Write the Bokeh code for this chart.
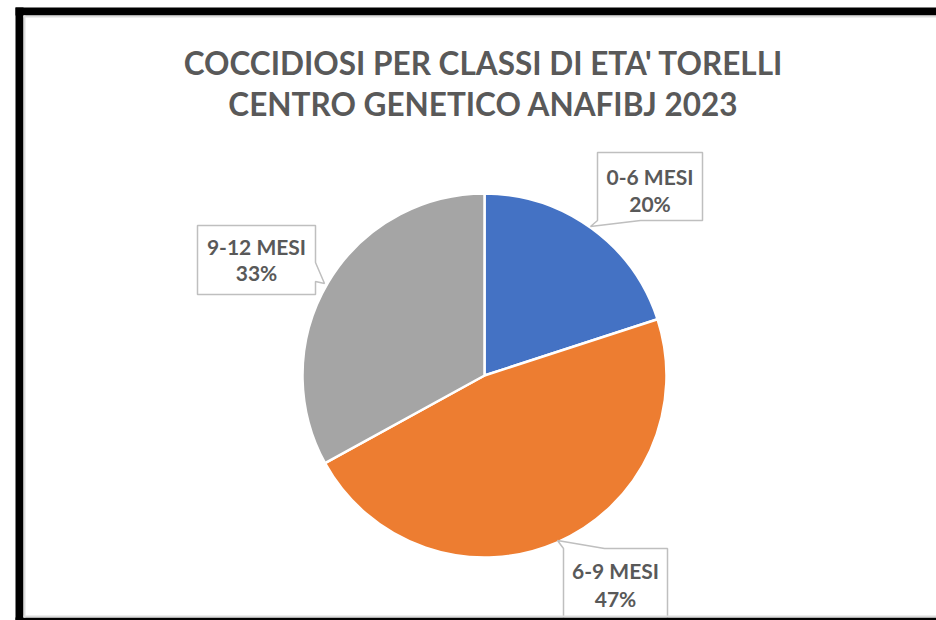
import math
from bokeh.plotting import figure
from bokeh.models import Range1d
from bokeh.core.properties import value
from bokeh.embed import file_html
from bokeh.resources import INLINE

# ---- data ----
categories = ["0-6 MESI", "6-9 MESI", "9-12 MESI"]
shares = [20, 47, 33]
colors = ["#4472C4", "#ED7D31", "#A5A5A5"]
title_lines = ["COCCIDIOSI PER CLASSI DI ETA' TORELLI", "CENTRO GENETICO ANAFIBJ 2023"]

W, H = 936, 620


def Y(py):
    return H - py


p = figure(width=W, height=H, output_backend="svg", toolbar_location=None,
           x_range=Range1d(0, W), y_range=Range1d(0, H), min_border=0)
p.axis.visible = False
p.grid.visible = False
p.outline_line_color = None
p.background_fill_color = "white"
p.border_fill_color = "white"

# ---- pie ----
cx, cy, r = 484, 375, 182
total = sum(shares)
starts, ends = [], []
cum = 0.0
for s in shares:
    starts.append(math.pi / 2 - 2 * math.pi * cum / total)
    cum += s
    ends.append(math.pi / 2 - 2 * math.pi * cum / total)

p.wedge(x=[cx] * 3, y=[Y(cy)] * 3, radius=r, start_angle=starts, end_angle=ends,
        direction="clock", fill_color=colors, line_color="white", line_width=2.5)

# ---- callouts (layout of label boxes) ----
callouts = [
    ([(597, 152), (702, 152), (702, 220), (640, 220), (590, 226), (597, 220)], 649.5, (175.5, 202.5)),
    ([(563, 548), (557, 540), (604, 548), (667, 548), (667, 640), (563, 640)], 615, (569.5, 598)),
    ([(197, 225), (315, 225), (315, 262), (324, 283), (315, 281), (315, 294), (197, 294)], 256, (245.5, 272)),
]
for (poly, lx, (l1, l2)), cat, s in zip(callouts, categories, shares):
    xs = [q[0] for q in poly]
    ys = [Y(q[1]) for q in poly]
    p.patch(xs, ys, fill_color="white", line_color="#BFBFBF", line_width=1.5)
    p.text(x=[lx, lx], y=[Y(l1), Y(l2)], text=[cat, f"{s}%"],
           text_align="center", text_baseline="middle",
           text_font=value("Lato"), text_font_style="bold",
           text_font_size="21px", text_color="#595959")

# ---- title ----
p.text(x=[483, 483], y=[Y(62), Y(103.5)], text=title_lines,
       text_align="center", text_baseline="middle",
       text_font=value("Lato"), text_font_style="bold",
       text_font_size="31.5px", text_color="#595959")

# ---- frame ----
p.quad(left=[15, 15, 15], right=[W + 5, 23, W + 5],
       top=[Y(7), Y(7), Y(617)], bottom=[Y(15), Y(H + 5), Y(H + 5)],
       fill_color="black", line_color=None)
p.quad(left=[23, 23, 23], right=[W + 5, 25, W + 5],
       top=[Y(15), Y(15), Y(615)], bottom=[Y(17), Y(617), Y(617)],
       fill_color="#DDDDDD", line_color=None)

open("out.html", "w").write(file_html(p, INLINE))
